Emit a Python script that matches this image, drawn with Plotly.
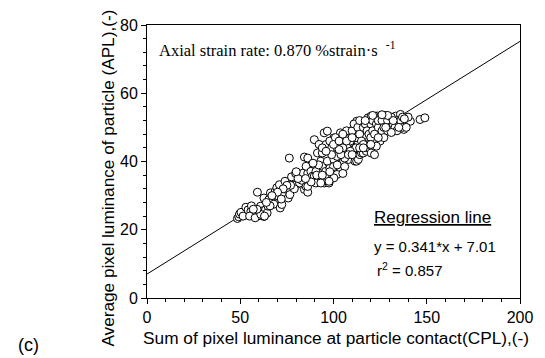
import plotly.graph_objects as go

# CPL (x) and APL (y) values
cpl = [48.5,49.2,49.6,50.4,51.5,53.0,54.2,55.7,56.5,57.4,58.5,59.2,60.0,60.9,61.8,62.7,63.5,64.4,64.9,62.7,
       65.3,66.2,67.0,68.0,68.8,69.6,70.5,71.0,71.4,72.3,73.0,74.0,74.9,75.7,76.6,76.3,77.5,78.5,79.7,80.1,
       81.8,82.5,83.7,84.4,85.3,86.2,86.2,86.2,87.0,84.4,86.2,85.3,87.9,88.7,89.7,90.6,90.6,89.7,91.4,92.3,
       55.0,58.0,61.0,63.0,59.0,56.0,57.0,
       93.2,94.0,94.0,95.0,96.7,95.8,96.7,95.0,97.6,99.4,97.6,96.7,100.2,101.0,102.8,100.2,103.7,102.8,101.9,104.6,
       104.6,103.7,101.9,100.2,97.6,93.2,105.4,107.2,107.2,108.0,108.9,108.0,110.7,111.5,112.4,112.4,111.5,113.3,113.3,114.1,
       115.0,115.9,115.0,116.8,117.6,117.6,118.5,118.5,118.5,119.4,120.2,120.2,122.0,122.0,122.8,122.8,123.7,123.7,125.4,125.4,
       125.4,127.2,127.2,128.0,128.0,128.0,130.7,130.7,132.5,133.3,135.1,135.9,137.7,138.5,139.4,141.2,146.4,149.0,
       96,98,99,101,102,104,105,106,107,109,110,111,112,113,114,114,115,116,117,118,
       119,120,120,121,121,122,123,124,124,125,126,126,127,129,129,130,131,132,133,134,
       136,137,139,140,134,131,127,123,119,116,112,109,106,104,103,99,98,100,102,106,
       108,110,105,98,92,91,89,88,83,81,79,77,75,73,72,70,67,66,64,80,
       85,94,94,96,100,103,105,107,110,114,116,120,124,128,132,135,137,138,129,126,121,117]
apl = [23.3,23.8,24.6,25.1,24.0,26.6,25.8,25.4,24.5,24.4,25.3,31.0,24.1,26.9,25.5,23.9,25.8,24.9,26.9,29.3,
       28.8,30.8,28.0,27.5,31.3,32.3,29.8,33.2,26.4,27.4,30.5,34.2,31.8,29.3,30.3,41.0,35.5,33.0,36.5,33.2,
       33.7,36.0,36.6,31.8,32.7,31.0,32.7,36.6,38.6,41.3,41.0,38.6,37.1,35.7,35.7,37.1,33.7,46.4,42.5,45.0,
       24.0,23.5,24.5,24.0,26.0,27.0,26.0,
       40.1,42.5,38.6,48.4,48.9,37.1,35.2,33.7,33.7,35.2,39.6,40.1,40.6,43.5,45.5,46.9,48.4,41.5,41.5,38.6,
       39.6,37.1,36.2,35.2,34.2,33.7,40.1,43.5,44.5,47.4,48.9,40.6,45.5,40.1,40.1,51.8,48.4,45.5,40.6,42.0,
       42.5,42.5,49.4,47.4,43.5,43.0,44.5,44.0,52.8,46.4,42.5,53.3,42.0,50.8,53.3,45.9,48.4,53.3,53.3,50.3,
       48.4,48.9,51.8,53.3,51.3,53.5,51.8,52.3,50.3,53.3,51.3,53.8,49.4,51.3,52.8,51.8,52.3,52.8,
       45,46,44,47,44,46,44,47,49,46,49,51,47,50,48,52,46,50,51,49,
       48,51,47,49,52,48,51,50,52,46,49,52,50,52,49,50,53,51,50,52,
       52,50,50,53,49,48.5,47,44.5,45,45,44,43,41,42,43.5,42,38,38.5,39,38.5,
       42,42,36.5,37,39,36,39.5,34,34.5,35,32,33,33,32,29,31,30,27,28,37,
       35,36,44,43,45,46,48,46,47,44,44,45,47,50,52,50,53,52.5,53.5,53.7,53.5,52]

# Regression line parameters
slope = 0.341
intercept = 7.01
reg_x = [0, 200]
reg_y = [slope * v + intercept for v in reg_x]

x_ticks = [0, 50, 100, 150, 200]
y_ticks = [0, 20, 40, 60, 80]

fig = go.Figure()
fig.add_trace(go.Scatter(x=reg_x, y=reg_y, mode="lines",
                         line=dict(color="black", width=1), showlegend=False, hoverinfo="skip"))
fig.add_trace(go.Scatter(x=cpl, y=apl, mode="markers",
                         marker=dict(size=8, color="white", line=dict(color="black", width=1)),
                         showlegend=False))

sans = "Liberation Sans"
axis_common = dict(showgrid=False, zeroline=False, showline=True, linecolor="black", linewidth=1,
                   mirror=True, ticks="outside", ticklen=5, tickwidth=1, tickcolor="black",
                   tickfont=dict(family=sans, size=16, color="black"))

fig.update_xaxes(range=[0, 200], tickvals=x_ticks, ticktext=[str(v) for v in x_ticks],
                 minor=dict(dtick=10, ticks="outside", ticklen=3, tickcolor="black", tickwidth=1),
                 **axis_common)
fig.update_yaxes(range=[0, 80], tickvals=y_ticks, ticktext=[str(v) for v in y_ticks],
                 minor=dict(dtick=4, ticks="outside", ticklen=3, tickcolor="black", tickwidth=1),
                 **axis_common)

fig.update_layout(
    width=545, height=358,
    margin=dict(l=147, r=16, t=25, b=60),
    plot_bgcolor="white", paper_bgcolor="white",
    annotations=[
        dict(text="Axial strain rate: 0.870 %strain·s&nbsp;&nbsp;<sup>-1</sup>", xref="x", yref="y",
             x=5.2, y=72.8, xanchor="left", yanchor="middle", showarrow=False,
             font=dict(family="Liberation Serif", size=16.5, color="black")),
        dict(text="<u>Regression line</u>", xref="x", yref="y",
             x=120.4, y=23.5, xanchor="left", yanchor="middle", showarrow=False,
             font=dict(family=sans, size=17, color="black")),
        dict(text="y = 0.341*x + 7.01", xref="x", yref="y",
             x=120.4, y=15.1, xanchor="left", yanchor="middle", showarrow=False,
             font=dict(family=sans, size=15, color="black")),
        dict(text="r<sup>2</sup> = 0.857", xref="x", yref="y",
             x=122, y=8.3, xanchor="left", yanchor="middle", showarrow=False,
             font=dict(family=sans, size=15, color="black")),
        dict(text="Sum of pixel luminance at particle contact(CPL),(-)", xref="paper", yref="paper",
             x=0.508, y=-0.1465, xanchor="center", yanchor="middle", showarrow=False,
             font=dict(family=sans, size=17.3, color="black")),
        dict(text="Average pixel luminance of particle (APL),(-)", xref="paper", yref="paper",
             x=-0.1047, y=0.441, xanchor="center", yanchor="middle", textangle=-90, showarrow=False,
             font=dict(family=sans, size=17.2, color="black")),
        dict(text="(c)", xref="paper", yref="paper",
             x=-0.351, y=-0.172, xanchor="left", yanchor="middle", showarrow=False,
             font=dict(family=sans, size=18, color="black")),
    ],
)

fig.write_html("out.html")
